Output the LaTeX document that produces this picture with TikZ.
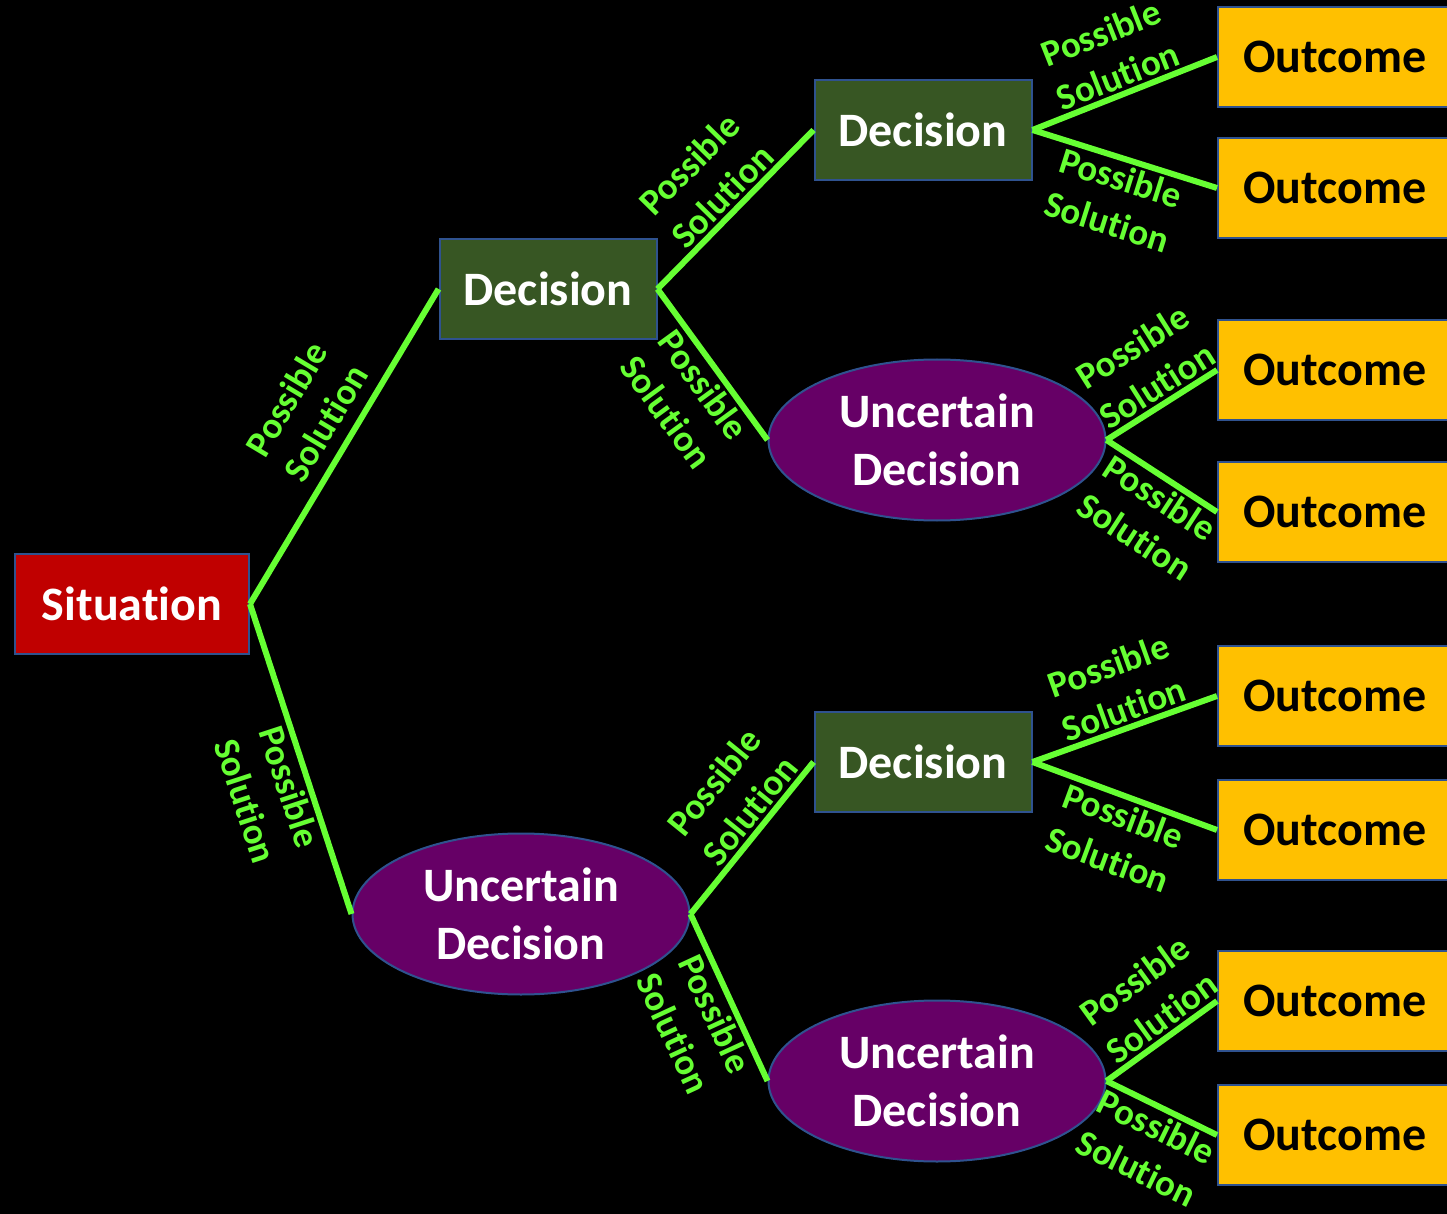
\documentclass[tikz,border=0pt]{standalone}
\usepackage{fontspec}
\setmainfont{Carlito}[RawFeature=-liga]
\usetikzlibrary{shapes.geometric}
\definecolor{sitred}{HTML}{C00000}
\definecolor{decgreen}{HTML}{375623}
\definecolor{uncpurple}{HTML}{660066}
\definecolor{outgold}{HTML}{FFC000}
\definecolor{rimblue}{HTML}{2F528F}
\definecolor{lime}{HTML}{66FF33}
\begin{document}
\begin{tikzpicture}[x=0.5pt, y=-0.5pt,
  box/.style={draw=rimblue, line width=1pt, text=white, inner sep=0pt, minimum height=50pt, font=\fontsize{24}{29}\selectfont\bfseries},
  situation/.style={box, fill=sitred, minimum width=117pt},
  decision/.style={box, fill=decgreen, minimum width=108.5pt},
  uncertain/.style={box, ellipse, fill=uncpurple, minimum width=168.5pt, minimum height=80.5pt, align=center},
  outcome/.style={box, fill=outgold, text=black, minimum width=117pt},
  branch/.style={lime, line width=3pt},
  sol/.style={sloped, text=lime, align=center, inner sep=1.5pt, font=\fontsize{18.5}{23}\selectfont\bfseries}
]
\fill[black] (0,0) rectangle (1447,1214);
\useasboundingbox (0,0) rectangle (1447,1214);
% nodes
\node[situation] (sit) at (132,604) {Situation};
\node[decision] (dec1) at (548,289) {Decision};
\node[uncertain] (unc1) at (521,914) {Uncertain\\Decision};
\node[decision] (dec2) at (923,130) {Decision};
\node[uncertain] (unc2) at (937,440) {Uncertain\\Decision};
\node[decision] (dec3) at (923,762) {Decision};
\node[uncertain] (unc3) at (937,1081) {Uncertain\\Decision};
\node[outcome] (out1) at (1335,57) {Outcome};
\node[outcome] (out2) at (1335,188) {Outcome};
\node[outcome] (out3) at (1335,370) {Outcome};
\node[outcome] (out4) at (1335,512) {Outcome};
\node[outcome] (out5) at (1335,696) {Outcome};
\node[outcome] (out6) at (1335,830) {Outcome};
\node[outcome] (out7) at (1335,1001) {Outcome};
\node[outcome] (out8) at (1335,1135) {Outcome};
% branches
\draw[branch] (sit.east) -- node[sol, above, pos=0.53, inner sep=6pt] {Possible\\Solution} (dec1.west);
\draw[branch] (sit.east) -- node[sol, below, pos=0.57] {Possible\\Solution} (unc1.west);
\draw[branch] (dec1.east) -- node[sol, above, pos=0.5] {Possible\\Solution} (dec2.west);
\draw[branch] (dec1.east) -- node[sol, below, pos=0.56] {Possible\\Solution} (unc2.west);
\draw[branch] (unc1.east) -- node[sol, above, pos=0.6] {Possible\\Solution} (dec3.west);
\draw[branch] (unc1.east) -- node[sol, below, pos=0.55] {Possible\\Solution} (unc3.west);
\draw[branch] (dec2.east) -- node[sol, above, pos=0.5] {Possible\\Solution} (out1.west);
\draw[branch] (dec2.east) -- node[sol, below, pos=0.51] {Possible\\Solution} (out2.west);
\draw[branch] (unc2.east) -- node[sol, above, pos=0.55] {Possible\\Solution} (out3.west);
\draw[branch] (unc2.east) -- node[sol, below, pos=0.58] {Possible\\Solution} (out4.west);
\draw[branch] (dec3.east) -- node[sol, above, pos=0.53] {Possible\\Solution} (out5.west);
\draw[branch] (dec3.east) -- node[sol, below, pos=0.53] {Possible\\Solution} (out6.west);
\draw[branch] (unc3.east) -- node[sol, above, pos=0.6] {Possible\\Solution} (out7.west);
\draw[branch] (unc3.east) -- node[sol, below, pos=0.53] {Possible\\Solution} (out8.west);
\end{tikzpicture}
\end{document}
